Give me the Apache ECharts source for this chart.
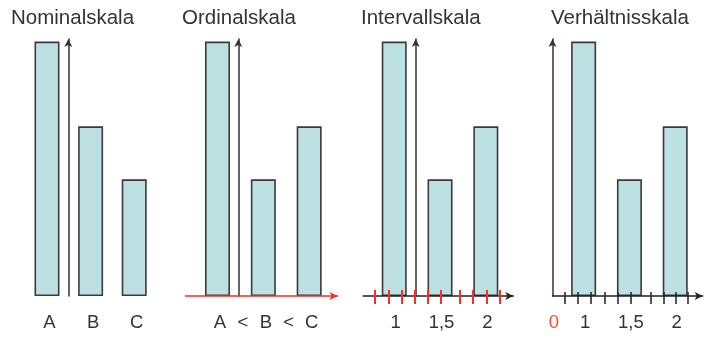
<!DOCTYPE html>
<html>
<head>
<meta charset="utf-8">
<script src="https://cdn.jsdelivr.net/npm/echarts@6/dist/echarts.min.js"></script>
<style>
html,body{margin:0;padding:0;background:#fff;}
#chart{width:719px;height:339px;}
</style>
</head>
<body>
<div id="chart"></div>
<script>
// ---- data ----
const titles = ['Nominalskala', 'Ordinalskala', 'Intervallskala', 'Verhältnisskala'];
const categories = ['A', 'B', 'C'];
const nominalValues = [6, 4, 2.75];
const ordinalValues = [6, 2.75, 4];
const scaleValues = [1, 1.5, 2];
const scaleLabels = ['1', '1,5', '2'];
const intervalValues = [6, 2.75, 4];
const ratioValues = [6, 2.75, 4];
const intervalTicks = [0.79, 0.94, 1.08, 1.22, 1.37, 1.51, 1.72, 1.86, 2.01, 2.15];
const ratioTicks = [0.79, 0.94, 1.08, 1.23, 1.37, 1.51, 1.73, 1.87, 2.01, 2.14];
const ratioOriginLabel = '0';
const ordinalSign = '<';

// ---- styles / layout ----
const FONT = "'Liberation Sans', Arial, sans-serif";
const TEXT = '#333333';
const BAR_FILL = '#BDE0E2';
const BAR_BORDER = '#3a3a3a';
const RED = '#ff2a2a';
const Y_MAX = 6.06;
const X_MIN = 0.66, X_MAX = 2.3;
const GRID_TOP = 39, GRID_H = 257;

const chart = echarts.init(document.getElementById('chart'));

const idxPairs = vals => vals.map((v, i) => [i, v]);
const scalePairs = vals => vals.map((v, i) => [scaleValues[i], v]);

const ordinalLabelValues = [];
const ordinalLabelTexts = [];
categories.forEach((c, i) => {
  if (i > 0) { ordinalLabelValues.push(i - 0.5); ordinalLabelTexts.push(ordinalSign); }
  ordinalLabelValues.push(i); ordinalLabelTexts.push(c);
});
const ratioLabelValues = [X_MIN].concat(scaleValues);
const ratioLabelTexts = [ratioOriginLabel].concat(scaleLabels);

function lookup(values, texts) {
  return v => {
    let best = 0, bd = Infinity;
    values.forEach((x, i) => { const d = Math.abs(x - v); if (d < bd) { bd = d; best = i; } });
    return texts[best];
  };
}

const labelBase = { fontFamily: FONT, fontSize: 18.5, color: TEXT, margin: 17, showMinLabel: true, showMaxLabel: true, hideOverlap: false };

function grid(left, width) {
  return { left: left, width: width, top: GRID_TOP, height: GRID_H, containLabel: false, outerBoundsMode: 'none' };
}
function yAxis(gridIndex, offset) {
  return {
    type: 'value', gridIndex: gridIndex, min: 0, max: Y_MAX, offset: offset, z: 5,
    axisLine: { show: true, onZero: false, symbol: ['none', 'arrow'], symbolSize: [6, 8], lineStyle: { color: '#333', width: 1.5 } },
    axisTick: { show: false }, axisLabel: { show: false }, splitLine: { show: false }
  };
}
function barSeries(xi, yi, data) {
  return {
    type: 'bar', xAxisIndex: xi, yAxisIndex: yi, data: data, barWidth: 25, z: 2,
    itemStyle: { color: BAR_FILL, borderColor: BAR_BORDER, borderWidth: 1.6 },
    emphasis: { disabled: true }, animation: false
  };
}
function tickAxis(gridIndex, ticks, color, width, offset, len) {
  return {
    type: 'value', gridIndex: gridIndex, min: X_MIN, max: X_MAX, position: 'bottom', offset: offset, z: 10,
    axisLine: { show: false, onZero: false },
    axisLabel: { show: false }, splitLine: { show: false },
    axisTick: { show: true, customValues: ticks, length: len, lineStyle: { color: color, width: width } }
  };
}

const option = {
  animation: false,
  backgroundColor: '#fff',
  title: titles.map((t, i) => ({
    text: t, left: [11, 182, 361, 551][i], top: 8, padding: 0,
    textStyle: { fontFamily: FONT, fontSize: 20.5, fontWeight: 'normal', color: TEXT }
  })),
  grid: [grid(25.2, 130.8), grid(185.4, 152.2), grid(363.1, 150.2), grid(552.5, 150.2)],
  xAxis: [
    { // nominal
      type: 'value', gridIndex: 0, min: -0.5, max: 2.5,
      axisLine: { show: false, onZero: false }, axisTick: { show: false }, splitLine: { show: false },
      axisLabel: Object.assign({}, labelBase, { customValues: categories.map((c, i) => i), formatter: v => categories[Math.round(v)], padding: [0, 0, 0, 5] })
    },
    { // ordinal
      type: 'value', gridIndex: 1, min: -0.7, max: 2.62, z: 5,
      axisLine: { show: true, onZero: false, symbol: ['none', 'arrow'], symbolSize: [6, 8], lineStyle: { color: RED, width: 1.5 } },
      axisTick: { show: false }, splitLine: { show: false },
      axisLabel: Object.assign({}, labelBase, { customValues: ordinalLabelValues, formatter: lookup(ordinalLabelValues, ordinalLabelTexts), padding: [0, 0, 0, 5] })
    },
    { // interval
      type: 'value', gridIndex: 2, min: X_MIN, max: X_MAX, z: 6,
      axisLine: { show: true, onZero: false, symbol: ['none', 'arrow'], symbolSize: [6, 8], lineStyle: { color: '#222', width: 1.5 } },
      axisTick: { show: false }, splitLine: { show: false },
      axisLabel: Object.assign({}, labelBase, { customValues: scaleValues, formatter: lookup(scaleValues, scaleLabels), padding: [0, 0, 0, 3] })
    },
    tickAxis(2, intervalTicks, RED, 2, -6, 14),
    { // ratio
      type: 'value', gridIndex: 3, min: X_MIN, max: X_MAX, z: 6,
      axisLine: { show: true, onZero: false, symbol: ['none', 'arrow'], symbolSize: [6, 8], lineStyle: { color: '#222', width: 1.5 } },
      axisTick: { show: false }, splitLine: { show: false },
      axisLabel: Object.assign({}, labelBase, {
        customValues: ratioLabelValues,
        formatter: v => { const t = lookup(ratioLabelValues, ratioLabelTexts)(v); return t === ratioOriginLabel ? '{o|' + t + '}' : t; },
        padding: [0, 0, 0, 3],
        rich: { o: { color: '#f0502e', fontFamily: FONT, fontSize: 18.5 } }
      })
    },
    tickAxis(3, ratioTicks, '#222', 1.5, -4, 12)
  ],
  yAxis: [yAxis(0, -43.1), yAxis(1, -52.9), yAxis(2, -52.6), yAxis(3, 0)],
  series: [
    barSeries(0, 0, idxPairs(nominalValues)),
    barSeries(1, 1, idxPairs(ordinalValues)),
    barSeries(2, 2, scalePairs(intervalValues)),
    barSeries(4, 3, scalePairs(ratioValues))
  ]
};
chart.setOption(option);
</script>
</body>
</html>
